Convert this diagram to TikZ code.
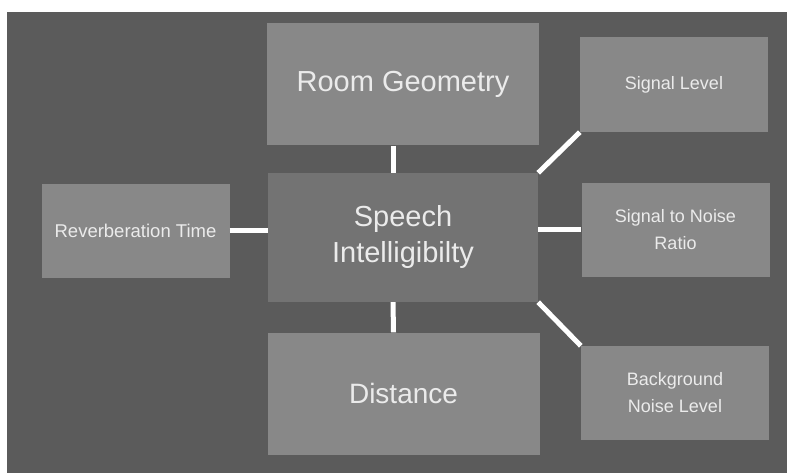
\documentclass[tikz,border=0pt]{standalone}
\usepackage{fontspec}
\setmainfont{Liberation Sans}
\definecolor{slate}{HTML}{5B5B5B}
\definecolor{boxgray}{HTML}{888888}
\definecolor{midgray}{HTML}{737373}
\definecolor{txtgray}{HTML}{EBEBEB}
\tikzset{
  box/.style={fill=boxgray, text=txtgray, align=center, inner sep=0pt,
    minimum width=188pt, minimum height=94pt,
    font=\fontsize{18}{27}\selectfont},
  bigbox/.style={box, minimum width=272pt, minimum height=122pt,
    font=\fontsize{29}{36}\selectfont},
  link/.style={draw=white, line width=5pt}
}
\begin{document}
\begin{tikzpicture}[x=1pt, y=-1pt]
    % 1. Khung nền
    \useasboundingbox (0,0) rectangle (787,473);
    \fill[slate] (7,12) rectangle (787,473);

    % 2. Các hộp
    \node[bigbox] (room) at (403,84.5) {Room Geometry};
    \node[bigbox, fill=midgray, minimum width=270pt, minimum height=129pt] (speech) at (403,237.5) {Speech\\Intelligibilty};
    \node[bigbox, font=\fontsize{28}{34}\selectfont] (dist) at (403.5,393.5) {Distance};
    \node[box, font=\fontsize{18.5}{27}\selectfont] (reverb) at (135.5,231) {Reverberation Time};
    \node[box, minimum height=95pt] (siglevel) at (674,84.5) {Signal Level};
    \node[box] (snr) at (675.5,230) {Signal to Noise\\Ratio};
    \node[box] (bgnoise) at (675,393) {Background\\Noise Level};

    % 3. Các đường nối
    \draw[link] ([xshift=-10pt]room.south) -- ([xshift=-10pt]speech.north);
    \draw[link] ([xshift=-10pt]speech.south) -- ([xshift=-10pt]dist.north);
    \draw[link] (reverb.east) -- (reverb.east -| speech.west);
    \draw[link] (snr.west -| speech.east) -- (snr.west);
    \draw[link] (speech.north east) -- (siglevel.south west);
    \draw[link] (speech.south east) -- (bgnoise.north west);
\end{tikzpicture}
\end{document}
